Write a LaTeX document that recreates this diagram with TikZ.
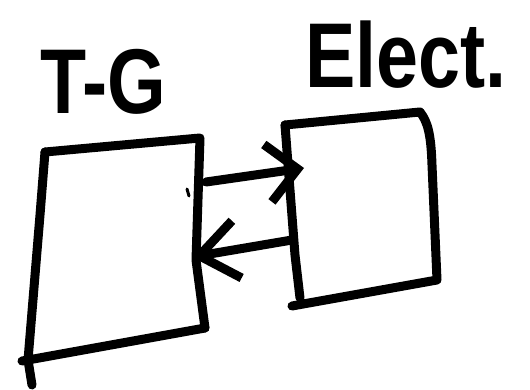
\documentclass[tikz,border=0pt]{standalone}
\usepackage{fontspec}
\setmainfont{Liberation Sans}
\usetikzlibrary{arrows.meta}
\begin{document}
\begin{tikzpicture}[x=1pt,y=-1pt,
  ink/.style={draw=black,line width=9pt,line cap=round,line join=round},
  link/.style={ink,-{Straight Barb[length=#1,width=58pt,line width=9pt]}},
  caption/.style={font=\bfseries\fontsize{92}{92}\selectfont,inner sep=0pt,anchor=base west,xscale=0.82}]
\useasboundingbox (0,0) rectangle (530,390);
% block corners
\coordinate (tgTL) at (45,152);
\coordinate (tgTR) at (200,138);
\coordinate (tgBR) at (205,328);
\coordinate (tgBL) at (28,360);
\coordinate (elTL) at (285,125);
\coordinate (elTR) at (420,112);
\coordinate (elBR) at (437,280);
\coordinate (elBL) at (300,298);
% T-G block
\draw[ink] (tgTL) -- (tgTR) -- (196,260) -- (tgBR);
\draw[ink] (tgTL) -- (40,215) -- (tgBL) -- (32,385);
\draw[ink] (22,361) -- (tgBL) -- (tgBR);
\draw[line width=3pt,line cap=round] (187,189) -- (189,196);
% Elect. block
\draw[ink] (elTL) -- (elTR) .. controls (428,122) and (431,135) .. (432,165) -- (elBR) -- (292,306);
\draw[ink] (elTL) -- (295,255) -- (elBL);
% connection ports
\coordinate (outA) at (206,182);
\coordinate (inA) at (304,168);
\coordinate (outB) at (292,240);
\coordinate (inB) at (192,257);
\draw[link=30pt] (outA) -- (inA);
\draw[link=38pt] (outB) -- (inB);
% labels
\node[caption] (tg) at (40,114) {T-G};
\node[caption] (el) at (305,88) {Elect.};
\end{tikzpicture}
\end{document}
